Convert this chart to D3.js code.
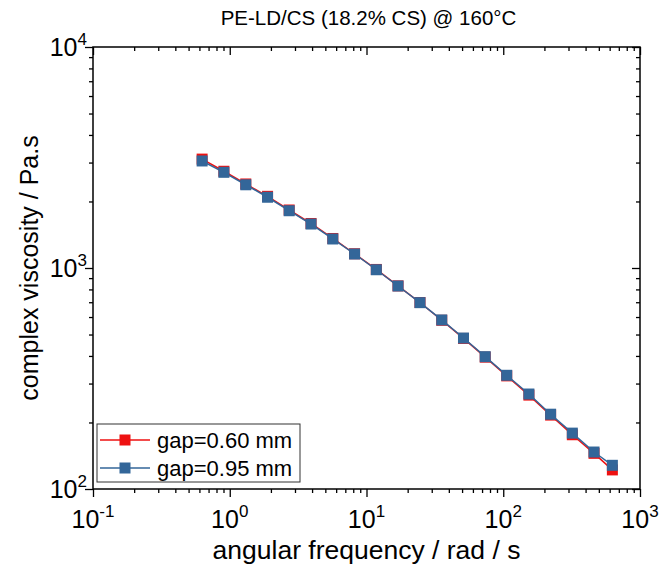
<!DOCTYPE html>
<html>
<head>
<meta charset="utf-8">
<script src="https://cdn.jsdelivr.net/npm/d3@7"></script>
<style>
  body { margin: 0; background: #fff; }
  text { font-family: "Liberation Sans", Arial, sans-serif; fill: #000; }
</style>
</head>
<body>
<div id="chart"></div>
<script>
// angular frequency (rad/s)
var freq = [0.628, 0.906, 1.31, 1.89, 2.72, 3.93, 5.67, 8.18, 11.8, 17.0,
            24.6, 35.5, 51.2, 73.8, 106, 154, 222, 320, 461, 628];
// complex viscosity (Pa.s)
var visc060 = [3110, 2740, 2400, 2110, 1830, 1590, 1360, 1160, 985, 830,
               698, 580, 480, 395, 325, 266, 216, 176, 145, 122];
var visc095 = [3050, 2710, 2380, 2090, 1816, 1581, 1353, 1157, 982, 829,
               697, 582, 482, 397, 327, 269, 218, 179, 147, 128];
var seriesNames = ["gap=0.60 mm", "gap=0.95 mm"];
var seriesColors = ["#ee1111", "#336699"];
var xTickExp = [-1, 0, 1, 2, 3];
var yTickExp = [2, 3, 4];

var W = 659, H = 567;
var margin = {top: 47, right: 19, bottom: 78, left: 93};
var w = W - margin.left - margin.right;
var h = H - margin.top - margin.bottom;

var svg = d3.select("#chart").append("svg")
    .attr("width", W)
    .attr("height", H);

var g = svg.append("g")
    .attr("transform", "translate(" + margin.left + "," + margin.top + ")");

var x = d3.scaleLog().domain([0.1, 1000]).range([0, w]);
var y = d3.scaleLog().domain([100, 10000]).range([h, 0]);

// minor tick values
function minors(lo, hi) {
    var out = [];
    for (var e = lo; e < hi; e++) {
        for (var m = 2; m <= 9; m++) out.push(m * Math.pow(10, e));
    }
    return out;
}
var xMajor = xTickExp.map(function (e) { return Math.pow(10, e); });
var yMajor = yTickExp.map(function (e) { return Math.pow(10, e); });
var xMinor = minors(-1, 3);
var yMinor = minors(2, 4);

function styleAxis(sel) {
    sel.select(".domain").remove();
    sel.selectAll(".tick line").attr("stroke", "#000").attr("stroke-width", 1.3);
}

// bottom (outward) and top (inward)
g.append("g").attr("transform", "translate(0," + h + ")")
    .call(d3.axisBottom(x).tickValues(xMajor).tickSize(8).tickFormat(""))
    .call(styleAxis);
g.append("g").attr("transform", "translate(0," + h + ")")
    .call(d3.axisBottom(x).tickValues(xMinor).tickSize(4).tickFormat(""))
    .call(styleAxis);
g.append("g")
    .call(d3.axisTop(x).tickValues(xMajor).tickSize(-8).tickFormat(""))
    .call(styleAxis);
g.append("g")
    .call(d3.axisTop(x).tickValues(xMinor).tickSize(-4).tickFormat(""))
    .call(styleAxis);

// left (outward) and right (inward)
g.append("g")
    .call(d3.axisLeft(y).tickValues(yMajor).tickSize(8).tickFormat(""))
    .call(styleAxis);
g.append("g")
    .call(d3.axisLeft(y).tickValues(yMinor).tickSize(4).tickFormat(""))
    .call(styleAxis);
g.append("g").attr("transform", "translate(" + w + ",0)")
    .call(d3.axisRight(y).tickValues(yMajor).tickSize(-8).tickFormat(""))
    .call(styleAxis);
g.append("g").attr("transform", "translate(" + w + ",0)")
    .call(d3.axisRight(y).tickValues(yMinor).tickSize(-4).tickFormat(""))
    .call(styleAxis);

// frame
g.append("rect")
    .attr("width", w).attr("height", h)
    .attr("fill", "none").attr("stroke", "#000").attr("stroke-width", 1.5);

// tick labels
xTickExp.forEach(function (e) {
    var t = g.append("text")
        .attr("x", x(Math.pow(10, e)))
        .attr("y", h + 39)
        .attr("text-anchor", "middle")
        .style("font-size", "25px");
    t.append("tspan").text("10");
    t.append("tspan").attr("dy", -11).style("font-size", "17px").text(e);
});
yTickExp.forEach(function (e) {
    var t = g.append("text")
        .attr("x", -6)
        .attr("y", y(Math.pow(10, e)) + 9)
        .attr("text-anchor", "end")
        .style("font-size", "25px");
    t.append("tspan").text("10");
    t.append("tspan").attr("dy", -11).style("font-size", "17px").text(e);
});

// axis titles
svg.append("text")
    .attr("x", margin.left + w / 2)
    .attr("y", 559)
    .attr("text-anchor", "middle")
    .style("font-size", "26.5px")
    .text("angular frequency / rad / s");
svg.append("text")
    .attr("transform", "translate(38," + (margin.top + h / 2) + ") rotate(-90)")
    .attr("text-anchor", "middle")
    .style("font-size", "25px")
    .text("complex viscosity / Pa.s");
svg.append("text")
    .attr("x", margin.left + w / 2 + 2)
    .attr("y", 25)
    .attr("text-anchor", "middle")
    .style("font-size", "20.5px")
    .text("PE-LD/CS (18.2% CS) @ 160\u00B0C");

// data
var series = [visc060, visc095];
var line = d3.line()
    .x(function (d) { return x(d[0]); })
    .y(function (d) { return y(d[1]); });

series.forEach(function (vals, si) {
    var pts = freq.map(function (f, i) { return [f, vals[i]]; });
    g.append("path")
        .datum(pts)
        .attr("d", line)
        .attr("fill", "none")
        .attr("stroke", seriesColors[si])
        .attr("stroke-width", 1.5);
    g.selectAll(".m" + si).data(pts).enter().append("rect")
        .attr("class", "m" + si)
        .attr("x", function (d) { return x(d[0]) - 5.5; })
        .attr("y", function (d) { return y(d[1]) - 5.5; })
        .attr("width", 11).attr("height", 11)
        .attr("fill", seriesColors[si]);
});

// legend
var lg = svg.append("g").attr("transform", "translate(97,424)");
lg.append("rect")
    .attr("width", 203).attr("height", 58)
    .attr("fill", "#fff").attr("stroke", "#333").attr("stroke-width", 1);
seriesNames.forEach(function (name, i) {
    var yy = 16 + i * 28;
    lg.append("line")
        .attr("x1", 3).attr("x2", 53).attr("y1", yy).attr("y2", yy)
        .attr("stroke", seriesColors[i]).attr("stroke-width", 1.5);
    lg.append("rect")
        .attr("x", 28 - 5.5).attr("y", yy - 5.5)
        .attr("width", 11).attr("height", 11)
        .attr("fill", seriesColors[i]);
    lg.append("text")
        .attr("x", 60).attr("y", yy + 8)
        .style("font-size", "22px")
        .text(name);
});
</script>
</body>
</html>
